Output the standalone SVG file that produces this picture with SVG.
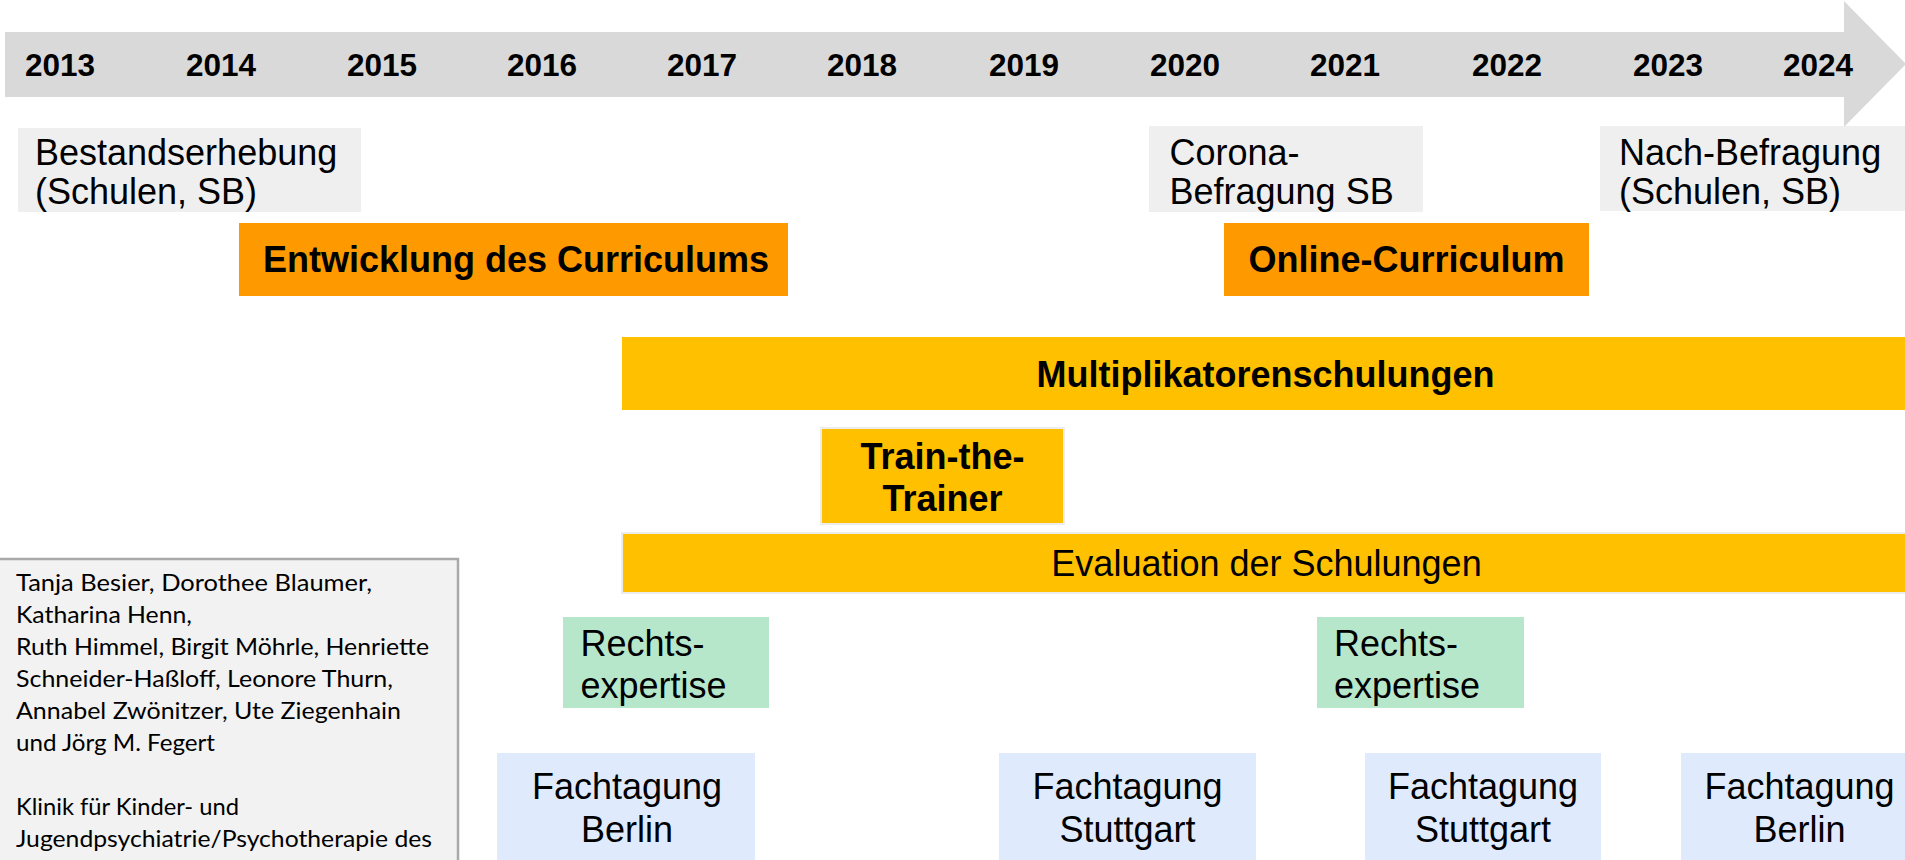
<svg xmlns="http://www.w3.org/2000/svg" width="1905" height="860" viewBox="0 0 1905 860">
<style>
.yr{font-family:"Liberation Sans",Arial,sans-serif;font-weight:bold;font-size:31.5px;fill:#000}
.lbl{font-family:"Liberation Sans",Arial,sans-serif;font-size:36px;fill:#000}
.b{font-weight:bold}
.auth{font-family:Lato,"Liberation Sans",sans-serif;font-size:24px;fill:#000}
.gray{fill:#efefef}
.orange{fill:#ff9900}
.yellow{fill:#ffc000}
.green{fill:#b6e7cb}
.blue{fill:#dfebfd}
</style>
<rect width="1905" height="860" fill="#ffffff"/>
<g id="timeline">
<polygon points="5,32 1844,32 1844,1 1906,64 1844,127 1844,97 5,97" fill="#d9d9d9"/>
<text class="yr" x="25" y="76">2013</text>
<text class="yr" x="186" y="76">2014</text>
<text class="yr" x="347" y="76">2015</text>
<text class="yr" x="507" y="76">2016</text>
<text class="yr" x="667" y="76">2017</text>
<text class="yr" x="827" y="76">2018</text>
<text class="yr" x="989" y="76">2019</text>
<text class="yr" x="1150" y="76">2020</text>
<text class="yr" x="1310" y="76">2021</text>
<text class="yr" x="1472" y="76">2022</text>
<text class="yr" x="1633" y="76">2023</text>
<text class="yr" x="1783" y="76">2024</text>
</g>
<g id="bestandserhebung">
<rect class="gray" x="18" y="128" width="343" height="84"/>
<text class="lbl" x="35" y="165">Bestandserhebung</text>
<text class="lbl" x="35" y="204">(Schulen, SB)</text>
</g>
<g id="corona">
<rect class="gray" x="1149" y="126" width="274" height="86"/>
<text class="lbl" x="1169.5" y="165">Corona-</text>
<text class="lbl" x="1169.5" y="204">Befragung SB</text>
</g>
<g id="nachbefragung">
<rect class="gray" x="1600" y="126" width="305" height="85"/>
<text class="lbl" x="1619" y="165">Nach-Befragung</text>
<text class="lbl" x="1619" y="204">(Schulen, SB)</text>
</g>
<g id="entwicklung">
<rect class="orange" x="239" y="223" width="549" height="73"/>
<text class="lbl b" x="516" y="272" text-anchor="middle">Entwicklung des Curriculums</text>
</g>
<g id="online">
<rect class="orange" x="1224" y="223" width="365" height="73"/>
<text class="lbl b" x="1406.5" y="272" text-anchor="middle">Online-Curriculum</text>
</g>
<g id="multiplikatoren">
<rect class="yellow" x="622" y="337" width="1290" height="73"/>
<text class="lbl b" x="1265.5" y="387" text-anchor="middle">Multiplikatorenschulungen</text>
</g>
<g id="trainthetrainer">
<rect class="yellow" x="821" y="428" width="243" height="96" stroke="#ececec" stroke-width="2"/>
<text class="lbl b" x="942.5" y="469" text-anchor="middle">Train-the-</text>
<text class="lbl b" x="942.5" y="511" text-anchor="middle">Trainer</text>
</g>
<g id="evaluation">
<rect class="yellow" x="622" y="533" width="1290" height="60" stroke="#ececec" stroke-width="2"/>
<text class="lbl" x="1266.5" y="576" text-anchor="middle">Evaluation der Schulungen</text>
</g>
<g id="rechts1">
<rect class="green" x="563" y="617" width="206" height="91"/>
<text class="lbl" x="580.5" y="656">Rechts-</text>
<text class="lbl" x="580.5" y="698">expertise</text>
</g>
<g id="rechts2">
<rect class="green" x="1317" y="617" width="207" height="91"/>
<text class="lbl" x="1334" y="656">Rechts-</text>
<text class="lbl" x="1334" y="698">expertise</text>
</g>
<g id="fachtagung-berlin-1">
<rect class="blue" x="497" y="753" width="258" height="110"/>
<text class="lbl" x="627" y="799" text-anchor="middle">Fachtagung</text>
<text class="lbl" x="627" y="842" text-anchor="middle">Berlin</text>
</g>
<g id="fachtagung-stuttgart-1">
<rect class="blue" x="999" y="753" width="257" height="110"/>
<text class="lbl" x="1127.5" y="799" text-anchor="middle">Fachtagung</text>
<text class="lbl" x="1127.5" y="842" text-anchor="middle">Stuttgart</text>
</g>
<g id="fachtagung-stuttgart-2">
<rect class="blue" x="1365" y="753" width="236" height="110"/>
<text class="lbl" x="1483" y="799" text-anchor="middle">Fachtagung</text>
<text class="lbl" x="1483" y="842" text-anchor="middle">Stuttgart</text>
</g>
<g id="fachtagung-berlin-2">
<rect class="blue" x="1681" y="753" width="237" height="110"/>
<text class="lbl" x="1799.5" y="799" text-anchor="middle">Fachtagung</text>
<text class="lbl" x="1799.5" y="842" text-anchor="middle">Berlin</text>
</g>
<g id="authors">
<rect x="-3" y="559" width="461" height="310" fill="#f2f2f2" stroke="#a9a9a9" stroke-width="2.5"/>
<text class="auth" x="16" y="591" textLength="356" lengthAdjust="spacingAndGlyphs">Tanja Besier, Dorothee Blaumer,</text>
<text class="auth" x="16" y="623" textLength="176" lengthAdjust="spacingAndGlyphs">Katharina Henn,</text>
<text class="auth" x="16" y="655" textLength="413" lengthAdjust="spacingAndGlyphs">Ruth Himmel, Birgit Möhrle, Henriette</text>
<text class="auth" x="16" y="687" textLength="377" lengthAdjust="spacingAndGlyphs">Schneider-Haßloff, Leonore Thurn,</text>
<text class="auth" x="16" y="719" textLength="385" lengthAdjust="spacingAndGlyphs">Annabel Zwönitzer, Ute Ziegenhain</text>
<text class="auth" x="16" y="751" textLength="199" lengthAdjust="spacingAndGlyphs">und Jörg M. Fegert</text>
<text class="auth" x="16" y="815" textLength="223" lengthAdjust="spacingAndGlyphs">Klinik für Kinder- und</text>
<text class="auth" x="16" y="847" textLength="416" lengthAdjust="spacingAndGlyphs">Jugendpsychiatrie/Psychotherapie des</text>
</g>
<g id="connectors"></g>
</svg>
